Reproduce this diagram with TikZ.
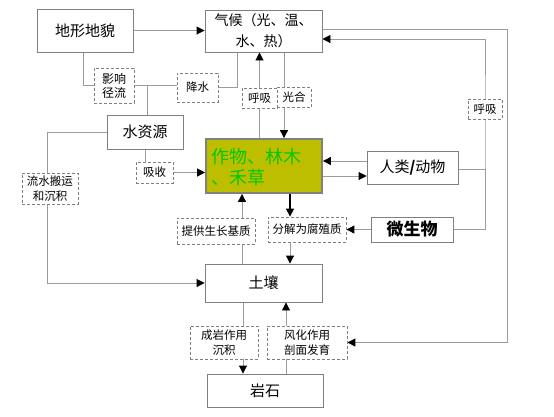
\documentclass[tikz,border=0pt]{standalone}
\usepackage{fontspec}
\newfontfamily\cjk{Noto Sans CJK SC}
\usetikzlibrary{arrows.meta,calc}
\pgfdeclarelayer{background}
\pgfsetlayers{background,main}
\definecolor{lncol}{RGB}{155,155,155}
\definecolor{bdcol}{RGB}{128,128,128}
\definecolor{olivefill}{RGB}{190,190,0}
\definecolor{greentext}{RGB}{0,200,0}
\tikzset{
  box/.style={draw=bdcol, line width=0.9pt, fill=white, inner sep=0pt, align=center,
    font=\cjk\fontsize{15}{20}\selectfont},
  dbox/.style={draw=bdcol, line width=0.8pt, dash pattern=on 3pt off 2pt, fill=white,
    inner sep=0pt, align=center, font=\cjk\fontsize{11.5}{14.5}\selectfont},
  ln/.style={draw=lncol, line width=0.9pt},
  arr/.style={ln, -{Triangle[length=8pt,width=8pt,color=black]}},
}
\begin{document}
\begin{tikzpicture}[x=1pt,y=-1pt]
\useasboundingbox (0,0) rectangle (554,416);
% boxes
\node[box, minimum width=96pt, minimum height=43pt] (dx) at (85,30.5) {地形地貌};
\node[box, minimum width=117pt, minimum height=42pt, font=\cjk\fontsize{14}{21}\selectfont] (qh) at (263.5,31) {气候（光、温、\\水、热）};
\node[dbox, minimum width=40pt, minimum height=35pt, font=\cjk\fontsize{12}{14}\selectfont] (yx) at (114,85.5) {影响\\径流};
\node[dbox, minimum width=41pt, minimum height=29pt] (js) at (197.5,87.5) {降水};
\node[dbox, minimum width=35pt, minimum height=20pt] (hx1) at (259.5,98) {呼吸};
\node[dbox, minimum width=34pt, minimum height=20pt] (gh) at (294,97.5) {光合};
\node[box, minimum width=76pt, minimum height=34pt] (szy) at (145,132) {水资源};
\node[draw=bdcol, line width=1.8pt, fill=olivefill, minimum width=116pt, minimum height=54pt,
  inner sep=0pt] (zw) at (264,166) {};
\node[anchor=north west, inner sep=0pt, text=greentext, align=left,
  font=\cjk\fontsize{18}{21}\selectfont] (zwt) at (211,148) {作物、林木\\、禾草};
\node[dbox, minimum width=37pt, minimum height=21pt] (xs) at (154.5,172.5) {吸收};
\node[dbox, minimum width=56pt, minimum height=31pt] (ls) at (50,188.5) {流水搬运\\和沉积};
\node[box, minimum width=91pt, minimum height=33pt] (rl) at (412.5,167.5) {人类\textbf{/}动物};
\node[box, minimum width=82pt, minimum height=25pt, font=\cjk\fontsize{17}{20}\bfseries\selectfont] (wsw) at (412,229.5) {微生物};
\node[dbox, minimum width=78pt, minimum height=25pt] (fj) at (307,229.5) {分解为腐殖质};
\node[dbox, minimum width=78pt, minimum height=26pt] (tg) at (216,231) {提供生长基质};
\node[dbox, minimum width=34pt, minimum height=20pt] (hx2) at (485,109) {呼吸};
\node[box, minimum width=117pt, minimum height=38pt] (tr) at (263.5,283) {土壤};
\node[dbox, minimum width=68pt, minimum height=33pt] (cy) at (224,342.5) {成岩作用\\沉积};
\node[dbox, minimum width=80pt, minimum height=33pt] (fh) at (307,342.5) {风化作用\\剖面发育};
\node[box, minimum width=116pt, minimum height=33pt] (ys) at (265,390.5) {岩石};
\coordinate (j1) at (147,85.5);
\coordinate (oc) at (507,342.5);
% connectors
\begin{pgfonlayer}{background}
\draw[arr] (dx.east) -- (dx.east -| qh.west);
\draw[ln] ([xshift=-2pt]dx.south) |- (yx.west);
\draw[ln] (yx.east) -- (yx.east -| js.west);
\draw[ln] (j1) -- (j1 |- szy.north);
\draw[ln] (js.east) -| ([xshift=-26.5pt]qh.south);
\draw[arr] (hx1 |- zw.north) -- (hx1 |- qh.south);
\draw[arr] ([xshift=20.5pt]qh.south) -- ([xshift=20pt]zw.north);
\draw[ln] (szy.south) -- (szy.south |- xs.north);
\draw[arr] (xs.east) -- (xs.east -| zw.west);
\draw[ln] (szy.west) -| ([xshift=-3pt]ls.north);
\draw[arr] ([xshift=-3pt]ls.south) |- (tr.west);
\draw[arr] ([yshift=6.5pt]rl.west) -- ([yshift=6.5pt]rl.west -| zw.east);
\draw[arr] ([yshift=-10pt]zw.east) -- ([yshift=-10pt]zw.east -| rl.west);
\draw[arr, draw=black, line width=1.2pt] ([xshift=26pt]zw.south) -- ([xshift=26pt]zw.south |- fj.north);
\draw[arr] ([xshift=26pt]zw.south |- fj.south) -- ([xshift=26pt]zw.south |- tr.north);
\draw[arr] (wsw.west) -- (fj.east);
\draw[arr] ([xshift=-22pt]zw.south |- tr.north) -- ([xshift=-22pt]zw.south);
\draw[ln] ([yshift=-1.5pt]rl.east) -- ([yshift=-1.5pt]rl.east -| hx2);
\draw[arr] (wsw.east) -| (hx2.center) |- ([yshift=-8pt]qh.east);
\draw[arr] ([yshift=2pt]qh.east) -| (oc) -- (fh.east);
\draw[arr] ([xshift=-20.5pt]tr.south) -- ([xshift=-20.5pt]tr.south |- ys.north);
\draw[arr] ([xshift=22.5pt]tr.south |- ys.north) -- ([xshift=22.5pt]tr.south);
\end{pgfonlayer}
\end{tikzpicture}
\end{document}
